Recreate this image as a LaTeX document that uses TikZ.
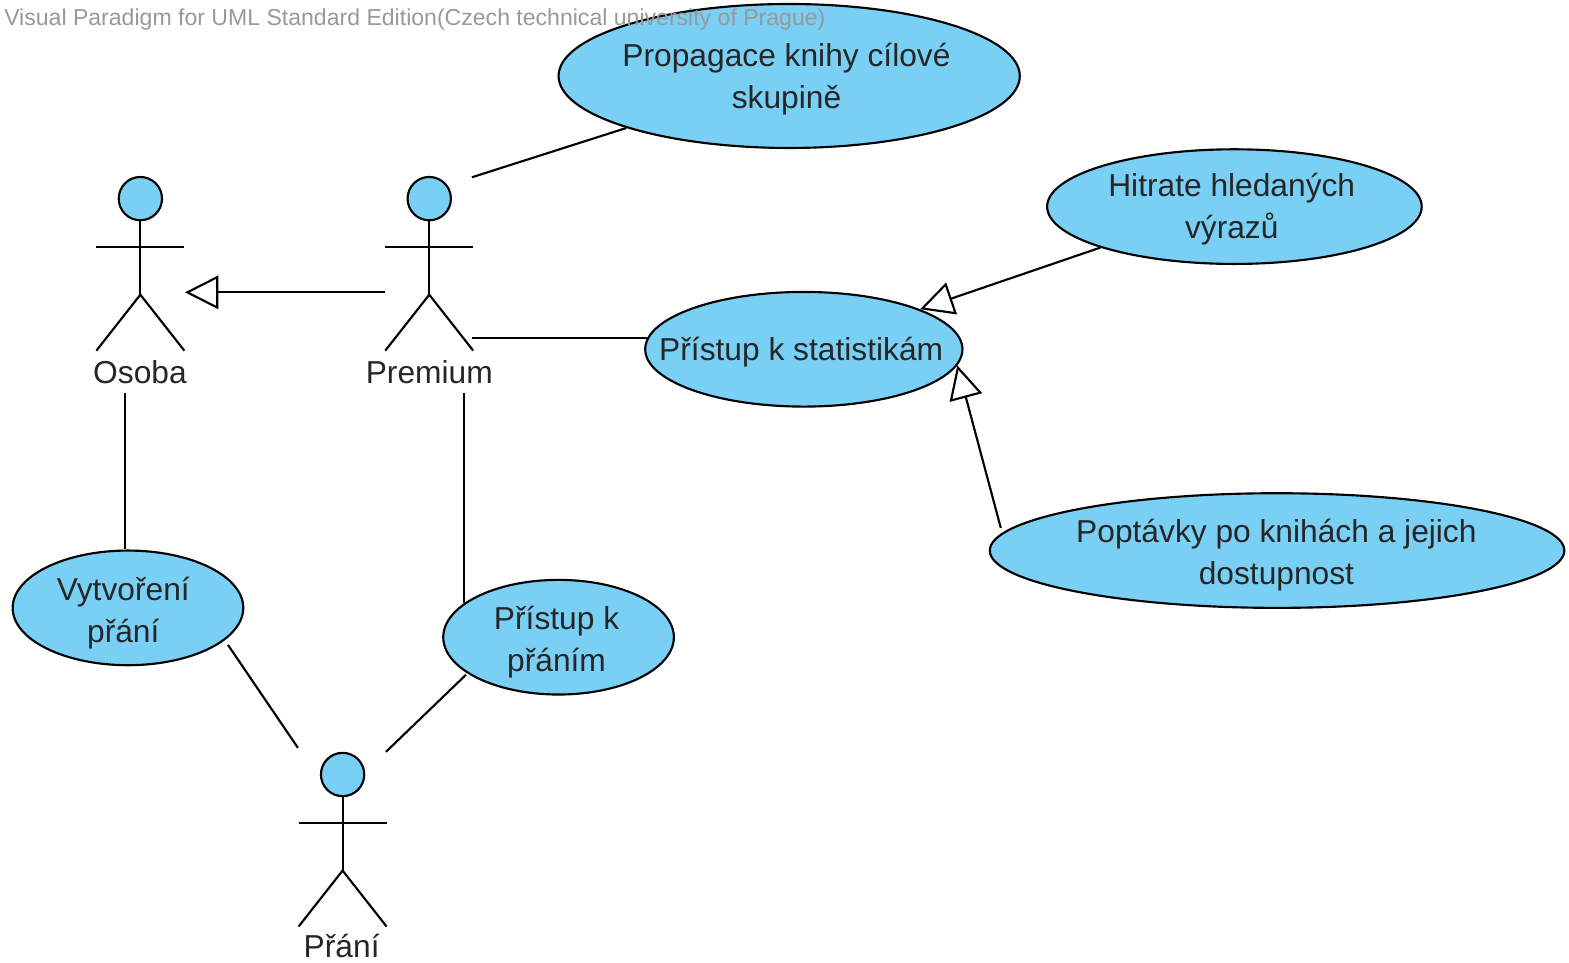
\documentclass[tikz,border=0pt]{standalone}
\usepackage{fontspec}
\setmainfont{Liberation Sans}
\usetikzlibrary{arrows.meta}
\usetikzlibrary{positioning}
\usetikzlibrary{shapes.geometric}
\definecolor{ucblue}{RGB}{122,207,245}
\tikzset{
  usecase/.style={ellipse,draw,fill=ucblue,line width=1.6pt,inner sep=0pt},
  usetext/.style={align=center,inner sep=0pt,xshift=-2pt,yshift=-2.5pt,text=black!85,font=\fontsize{23.8}{31.5}\selectfont},
  actorlabel/.style={font=\fontsize{23.8}{28}\selectfont,text=black!85,inner sep=0pt},
  actorhead/.style={circle,draw,fill=ucblue,line width=1.6pt,minimum size=32.5pt,inner sep=0pt},
  genline/.style={-{Triangle[length=25pt,width=25pt,fill=white]},line width=1.6pt},
  assocline/.style={line width=1.6pt},
}
\newcommand{\actorbody}[1]{
  \coordinate (#1-hip) at ([yshift=-55pt]#1head.south);
  \draw[assocline] (#1head.south) -- (#1-hip);
  \draw[assocline] ([xshift=-33pt,yshift=-19pt]#1head.south) -- ([xshift=33pt,yshift=-19pt]#1head.south);
  \draw[assocline] ([xshift=-33pt,yshift=-97pt]#1head.south) -- (#1-hip) -- ([xshift=33pt,yshift=-97pt]#1head.south);
}
\begin{document}
\begin{tikzpicture}[x=1pt,y=-1pt,>=Stealth]
  \useasboundingbox (0,0) rectangle (1177,722);
  \fill[white] (0,0) rectangle (1177,722);

  \node[usecase,minimum width=346pt,minimum height=108pt] (propagace) at (592,57) {};
  \node[usecase,minimum width=281pt,minimum height=86pt] (hitrate) at (926,155) {};
  \node[usecase,minimum width=238pt,minimum height=86pt] (statistiky) at (603,262) {};
  \node[usecase,minimum width=431pt,minimum height=86pt] (poptavky) at (958,413) {};
  \node[usecase,minimum width=173pt,minimum height=86pt] (vytvoreni) at (96,456) {};
  \node[usecase,minimum width=173pt,minimum height=86pt] (pristup) at (419,478) {};

  \node[usetext] (propagace-text) at (propagace) {Propagace knihy cílové\\skupině};
  \node[usetext,yshift=1pt] (hitrate-text) at (hitrate) {Hitrate hledaných\\výrazů};
  \node[usetext] (statistiky-text) at (statistiky) {Přístup k statistikám};
  \node[usetext,xshift=1.5pt,yshift=-1pt] (poptavky-text) at (poptavky) {Poptávky po knihách a jejich\\dostupnost};
  \node[usetext,xshift=-1.5pt,yshift=-1.5pt] (vytvoreni-text) at (vytvoreni) {Vytvoření\\přání};
  \node[usetext,xshift=0.5pt,yshift=-1.5pt] (pristup-text) at (pristup) {Přístup k\\přáním};

  \node[actorhead] (osobahead) at (105.3,149) {};
  \node[actorhead] (premiumhead) at (322,149) {};
  \node[actorhead] (pranihead) at (257,581) {};
  \actorbody{osoba}
  \actorbody{premium}
  \actorbody{prani}
  \node[actorlabel] (osoba) at (105,279) {Osoba};
  \node[actorlabel] (premium) at (322,279) {Premium};
  \node[actorlabel] (prani) at (256.3,709.5) {Přání};

  \coordinate (premiumtop) at (354,133);
  \coordinate (premiumleft) at (288.75,219.3);
  \coordinate (premiumright) at (354,253.5);
  \coordinate (osobaright) at (138.75,219.3);
  \coordinate (osobafoot) at (93.75,294.75);
  \coordinate (premiumfoot) at (348,294.75);
  \coordinate (pranileft) at (223.5,561);
  \coordinate (praniright) at (289.5,564);
  \coordinate (vytvoreniend) at (171,483.75);
  \coordinate (pristupend) at (349.5,506.25);
  \coordinate (poptavkyend) at (750.75,396);

  \draw[assocline] (premiumtop) -- (propagace);
  \draw[genline] (premiumleft) -- (osobaright);
  \draw[assocline] (premiumright) -- (statistiky.176 |- premiumright);
  \draw[assocline] (osobafoot) -- (osobafoot |- vytvoreni.north);
  \draw[assocline] (premiumfoot) -- (premiumfoot |- pristup.160);
  \draw[assocline] (vytvoreniend) -- (pranileft);
  \draw[assocline] (pristupend) -- (praniright);
  \draw[genline] (hitrate.197) -- (statistiky.19);
  \draw[genline] (poptavkyend) -- (statistiky.354);

  \node[anchor=west,inner sep=0pt,text=black!40,font=\fontsize{17.3}{20}\selectfont] (edition) at (3,15) {Visual Paradigm for UML Standard Edition(Czech technical university of Prague)};
\end{tikzpicture}
\end{document}
